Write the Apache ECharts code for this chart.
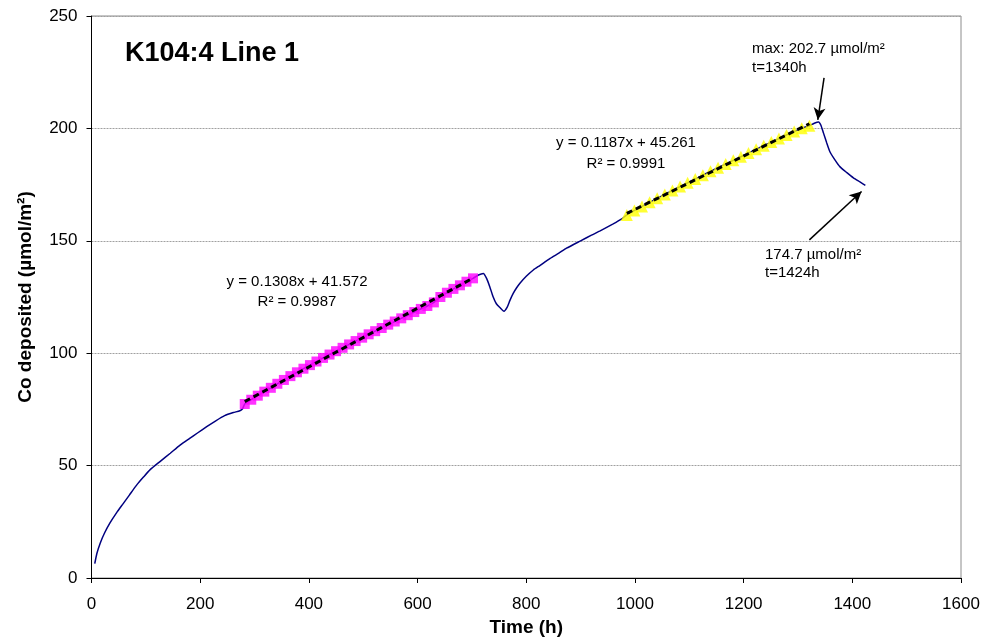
<!DOCTYPE html>
<html>
<head>
<meta charset="utf-8">
<script src="https://cdn.jsdelivr.net/npm/echarts@6/dist/echarts.min.js"></script>
<style>
html,body{margin:0;padding:0;background:#fff;}
#chart{width:989px;height:643px;}
</style>
</head>
<body>
<div id="chart"></div>
<script>
// ---- Data ----
// Blue curve: before first fit range
const curveA_t = [6, 10, 16, 24, 34, 46, 58, 70, 83, 96, 108, 126, 145, 163, 180, 195, 212, 228, 245, 261, 273, 278];
const curveA_y = [6.4, 11, 15.5, 20, 24.5, 29, 33, 37, 41.3, 45, 48.2, 51.8, 55.5, 59.1, 62, 64.5, 67.3, 69.8, 72.2, 73.6, 74.4, 75.3];
// First fit range (magenta squares)
const fit1_t = [282, 294, 306, 318, 330, 342, 354, 366, 378, 390, 402, 414, 426, 438, 450, 462, 474, 486, 498, 510, 522, 534, 546, 558, 570, 582, 594, 606, 618, 630, 642, 654, 666, 678, 690, 702];
const fit1_y = [77.4, 79.3, 81.1, 82.9, 84.6, 86.4, 88.1, 89.8, 91.5, 93.1, 94.7, 96.3, 97.9, 99.4, 100.9, 102.4, 103.9, 105.4, 106.9, 108.4, 109.8, 111.2, 112.7, 114.1, 115.5, 116.9, 118.3, 119.7, 121.0, 122.6, 125.0, 126.9, 128.6, 130.2, 131.8, 133.3];
// Blue curve: between the two fit ranges
const curveB_t = [712, 721, 727, 733, 739, 745, 752, 759, 765, 770, 776, 782, 788, 800, 813, 825, 844, 860, 874, 900, 920, 936, 960, 975];
const curveB_y = [134.8, 135.5, 133.3, 129.5, 125.1, 122.0, 120.2, 118.7, 120.5, 123.5, 126.6, 129.0, 131.0, 134.2, 137.0, 139.0, 142.2, 144.5, 146.7, 150.0, 152.5, 154.4, 157.5, 159.6];
// Second fit range (yellow triangles)
const fit2_t = [985, 999, 1013, 1027, 1041, 1055, 1069, 1083, 1097, 1111, 1125, 1139, 1153, 1167, 1181, 1195, 1209, 1223, 1237, 1251, 1265, 1279, 1293, 1307, 1321];
const fit2_y = [161.5, 163.5, 165.3, 167.1, 168.9, 170.6, 172.4, 174.1, 175.8, 177.5, 179.2, 180.9, 182.5, 184.2, 185.8, 187.4, 189.1, 190.7, 192.3, 193.9, 195.5, 197.1, 198.6, 200.1, 201.2];
// Blue curve: after the second fit range
const curveC_t = [1330, 1338, 1342, 1347, 1353, 1359, 1368, 1377, 1390, 1402, 1414, 1424];
const curveC_y = [202.3, 202.9, 201.5, 197.9, 193.5, 189.5, 186.0, 183.0, 180.3, 178.0, 176.2, 174.7];
// Trendline coefficients (from the reference labels)
const trend1 = { slope: 0.1308, intercept: 41.572 };
const trend2 = { slope: 0.1187, intercept: 45.261 };
// Annotation points: [tail, head] in data units
const arrowMax = [[1348, 222.5], [1336.5, 203.8]];
const arrowEnd = [[1321, 150.4], [1417, 171.9]];
// Axis ticks
const xTicks = [0, 200, 400, 600, 800, 1000, 1200, 1400, 1600];
const yTicks = [0, 50, 100, 150, 200, 250];

const FONT = "'Liberation Sans', Arial, sans-serif";
const zip = (a, b) => a.map((v, i) => [v, b[i]]);
const allT = curveA_t.concat(fit1_t, curveB_t, fit2_t, curveC_t);
const allY = curveA_y.concat(fit1_y, curveB_y, fit2_y, curveC_y);
const trendLine = (tr, ts) => [ts[0], ts[ts.length - 1]].map(t => [t, tr.slope * t + tr.intercept]);

const chart = echarts.init(document.getElementById('chart'), null, { renderer: 'canvas' });
const arrowStyle = {
  silent: true, symbol: ['none', 'arrow'], symbolSize: [9, 12],
  lineStyle: { color: '#000', width: 1.5, type: 'solid' },
  label: { show: false }, emphasis: { disabled: true }, animation: false
};
chart.setOption({
  animation: false,
  textStyle: { fontFamily: FONT },
  grid: { left: 91.5, right: 28, top: 16, bottom: 65, show: true, borderColor: '#8c8c8c', borderWidth: 1, backgroundColor: '#fff' },
  xAxis: {
    type: 'value', min: xTicks[0], max: xTicks[xTicks.length - 1], interval: 200,
    name: 'Time (h)', nameLocation: 'middle', nameGap: 40,
    nameTextStyle: { fontSize: 19, fontWeight: 'bold', color: '#000', fontFamily: FONT },
    axisLine: { show: true, onZero: false, lineStyle: { color: '#000', width: 1 } },
    axisTick: { show: true, inside: false, length: 5, lineStyle: { color: '#000' } },
    axisLabel: { fontSize: 17, color: '#000', margin: 18, fontFamily: FONT, formatter: v => String(v) },
    splitLine: { show: false }
  },
  yAxis: {
    type: 'value', min: yTicks[0], max: yTicks[yTicks.length - 1], interval: 50,
    name: 'Co deposited (µmol/m²)', nameLocation: 'middle', nameGap: 56, nameRotate: 90,
    nameTextStyle: { fontSize: 19, fontWeight: 'bold', color: '#000', fontFamily: FONT },
    axisLine: { show: true, onZero: false, lineStyle: { color: '#000', width: 1 } },
    axisTick: { show: true, inside: false, length: 5, lineStyle: { color: '#000' } },
    axisLabel: { fontSize: 17, color: '#000', margin: 14, fontFamily: FONT, formatter: v => String(v) },
    splitLine: { show: true, lineStyle: { color: '#a0a0a0', width: 1, type: [2, 1] } }
  },
  series: [
    {
      name: 'data', type: 'line', data: zip(allT, allY), showSymbol: false, symbol: 'none',
      smooth: 0.2, lineStyle: { color: '#000080', width: 1.5 }, z: 2, silent: true
    },
    {
      name: 'fit1', type: 'scatter', data: zip(fit1_t, fit1_y), symbol: 'rect', symbolSize: 10,
      itemStyle: { color: '#ff00ff' }, z: 3, silent: true
    },
    {
      name: 'fit2', type: 'scatter', data: zip(fit2_t, fit2_y), symbol: 'triangle', symbolSize: 12,
      itemStyle: { color: '#ffff00' }, z: 3, silent: true
    },
    {
      name: 'trend1', type: 'line', data: trendLine(trend1, fit1_t), showSymbol: false, symbol: 'none',
      lineStyle: { color: '#000', width: 3, type: [6, 4] }, z: 4, silent: true
    },
    {
      name: 'trend2', type: 'line', data: trendLine(trend2, fit2_t), showSymbol: false, symbol: 'none',
      lineStyle: { color: '#000', width: 3, type: [6, 4] }, z: 4, silent: true,
      markLine: Object.assign({}, arrowStyle, {
        data: [
          [{ coord: arrowMax[0] }, { coord: arrowMax[1] }],
          [{ coord: arrowEnd[0] }, { coord: arrowEnd[1] }]
        ]
      })
    }
  ],
  graphic: [
    { type: 'text', left: 125, top: 40, style: { text: 'K104:4 Line 1', font: 'bold 27px ' + FONT, fill: '#000' } },
    { type: 'text', x: 297, y: 292, style: { text: 'y = 0.1308x + 41.572\nR² = 0.9987', font: '15px ' + FONT, fill: '#000', align: 'center', verticalAlign: 'middle', lineHeight: 20 } },
    { type: 'text', x: 626, y: 153.5, style: { text: 'y = 0.1187x + 45.261\nR² = 0.9991', font: '15px ' + FONT, fill: '#000', align: 'center', verticalAlign: 'middle', lineHeight: 21 } },
    { type: 'text', x: 752, y: 58.5, style: { text: 'max: 202.7 µmol/m²\nt=1340h', font: '15px ' + FONT, fill: '#000', align: 'left', verticalAlign: 'middle', lineHeight: 19 } },
    { type: 'text', x: 765, y: 264, style: { text: '174.7 µmol/m²\nt=1424h', font: '15px ' + FONT, fill: '#000', align: 'left', verticalAlign: 'middle', lineHeight: 18 } }
  ]
});
</script>
</body>
</html>
